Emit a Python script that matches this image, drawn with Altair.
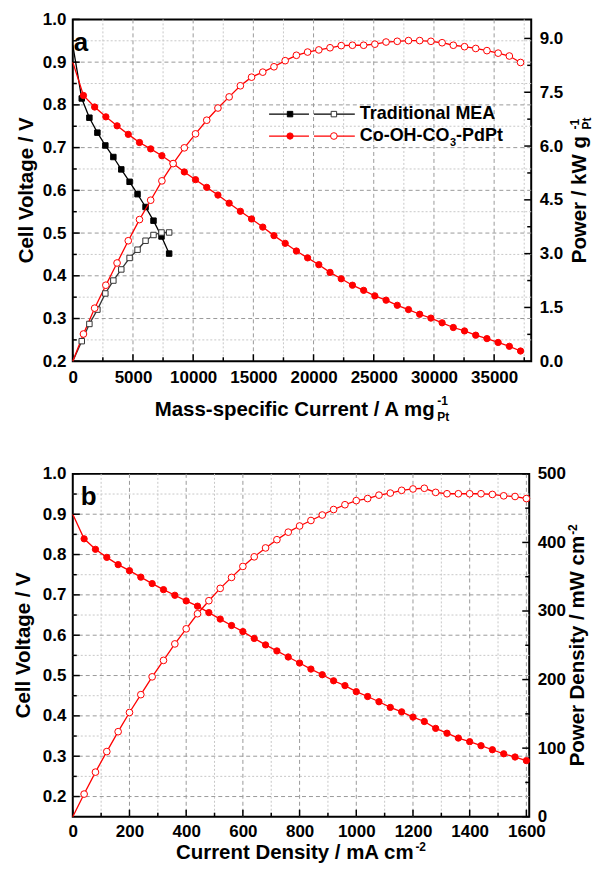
import altair as alt
import pandas as pd

# ---------------- data: panel a ----------------
a_current = [886, 1817, 2748, 3679, 4610, 5541, 6472, 7403, 8334, 9265, 10196, 11127,
             12058, 12989, 13920, 14851, 15782, 16713, 17644, 18575, 19506, 20437, 21368,
             22299, 23230, 24161, 25092, 26023, 26954, 27885, 28816, 29747, 30678, 31609,
             32540, 33471, 34402, 35333, 36264, 37195]
a_voltage = [0.822, 0.795, 0.772, 0.751, 0.731, 0.712, 0.697, 0.681, 0.663, 0.643, 0.625,
             0.607, 0.589, 0.570, 0.551, 0.533, 0.514, 0.494, 0.476, 0.458, 0.442, 0.426,
             0.408, 0.393, 0.378, 0.366, 0.353, 0.343, 0.331, 0.321, 0.310, 0.301, 0.290,
             0.279, 0.271, 0.261, 0.253, 0.244, 0.235, 0.224]
a_power = [0.76, 1.48, 2.12, 2.74, 3.36, 3.95, 4.49, 5.03, 5.51, 5.95, 6.34, 6.72, 7.06,
           7.37, 7.68, 7.92, 8.06, 8.21, 8.38, 8.53, 8.62, 8.68, 8.74, 8.80, 8.81, 8.81,
           8.84, 8.90, 8.92, 8.94, 8.94, 8.92, 8.88, 8.81, 8.77, 8.72, 8.66, 8.59, 8.51, 8.33]
a_ocv = 0.90

mea_current = [745, 1380, 2045, 2705, 3370, 4030, 4720, 5380, 6045, 6705, 7370, 8005]
mea_voltage = [0.815, 0.770, 0.735, 0.705, 0.678, 0.649, 0.620, 0.591, 0.561, 0.529, 0.492, 0.452]
mea_power = [0.56, 1.04, 1.44, 1.89, 2.25, 2.56, 2.88, 3.11, 3.36, 3.52, 3.59, 3.59]
mea_ocv = 0.94

# ---------------- data: panel b ----------------
b_current = [40, 80, 120, 160, 200, 240, 280, 320, 360, 400, 440, 480, 520, 560, 600, 640,
             680, 720, 760, 800, 840, 880, 920, 960, 1000, 1040, 1080, 1120, 1160, 1200,
             1240, 1280, 1320, 1360, 1400, 1440, 1480, 1520, 1560, 1600]
b_voltage = [0.839, 0.813, 0.793, 0.775, 0.760, 0.744, 0.728, 0.713, 0.699, 0.685, 0.672,
             0.656, 0.640, 0.624, 0.609, 0.592, 0.576, 0.561, 0.546, 0.531, 0.516, 0.502,
             0.487, 0.475, 0.460, 0.448, 0.435, 0.421, 0.410, 0.397, 0.386, 0.369, 0.357,
             0.345, 0.336, 0.326, 0.316, 0.306, 0.298, 0.289]
b_power = [33, 65, 95, 124, 152, 178, 204, 228, 252, 274, 296, 315, 333, 349, 365, 379, 392,
           404, 415, 424, 432, 440, 448, 455, 461, 464, 469, 472, 476, 478, 479, 473, 471,
           471, 471, 471, 470, 468, 467, 464]
b_ocv = 0.90

# axis values
a_x_major = [0, 5000, 10000, 15000, 20000, 25000, 30000, 35000]
a_x_minor = [2500, 7500, 12500, 17500, 22500, 27500, 32500, 37500]
a_y_major = [0.2, 0.3, 0.4, 0.5, 0.6, 0.7, 0.8, 0.9, 1.0]
a_y_minor = [0.25, 0.35, 0.45, 0.55, 0.65, 0.75, 0.85, 0.95]
a_r_major = [0.0, 1.5, 3.0, 4.5, 6.0, 7.5, 9.0]
a_r_minor = [0.75, 2.25, 3.75, 5.25, 6.75, 8.25]

b_x_major = [0, 200, 400, 600, 800, 1000, 1200, 1400, 1600]
b_x_minor = [100, 300, 500, 700, 900, 1100, 1300, 1500]
b_y_major = [0.2, 0.3, 0.4, 0.5, 0.6, 0.7, 0.8, 0.9, 1.0]
b_y_minor = [0.25, 0.35, 0.45, 0.55, 0.65, 0.75, 0.85, 0.95]
b_r_major = [0, 100, 200, 300, 400, 500]
b_r_minor = [50, 150, 250, 350, 450]

FONT = "Liberation Sans"
RED = "#ff0000"
AW = {' ': 278, '-': 333, '/': 278, '.': 278, '0': 556, '1': 556, '2': 556, '3': 556,
      'A': 722, 'C': 722, 'D': 722, 'M': 833, 'P': 667, 'V': 667, 'W': 944, 'O': 778,
      'H': 722, 'E': 667, 'T': 611, 'a': 556, 'c': 556, 'd': 611, 'e': 556, 'f': 333,
      'g': 611, 'i': 278, 'k': 556, 'l': 278, 'm': 889, 'n': 611, 'o': 611, 'p': 611,
      'r': 389, 's': 556, 't': 333, 'u': 611, 'w': 778, 'y': 556}


def tw(s, size):
    return sum(AW.get(c, 556) for c in s) / 1000.0 * size


ONE = alt.Data(values=[{}])


def txt(s, x, y, size, angle=0, align="left", baseline="alphabetic", color="black"):
    return alt.Chart(ONE).mark_text(text=s, x=x, y=y, fontSize=size, font=FONT,
                                    fontWeight="bold", angle=angle, align=align,
                                    baseline=baseline, color=color)


def seg(x1, x2, y, color, w=1.3):
    return alt.Chart(ONE).mark_rule(color=color, strokeWidth=w).encode(
        x=alt.value(x1), x2=alt.value(x2), y=alt.value(y))


def sym(x, y, shape, size, fill, stroke):
    return alt.Chart(ONE).mark_point(shape=shape, size=size, filled=True, fill=fill,
                                     stroke=stroke, strokeWidth=1, opacity=1).encode(
        x=alt.value(x), y=alt.value(y))


def ax(**kw):
    return alt.Axis(ticks=False, domain=False, grid=False, title=None, labelFont=FONT,
                    labelFontWeight="bold", labelFontSize=17, labelColor="black",
                    labelFlush=False, labelOverlap=False, **kw)


def build(W, H, xdom, xmaj, xmin, xfmt, xpad, ydom, ymaj, ymin, rdom, rmaj, rmin, rfmt,
          left_series, right_series, decor):
    X = alt.X("x:Q", scale=alt.Scale(domain=xdom, nice=False, zero=False),
              axis=ax(values=xmaj, format=xfmt, labelPadding=xpad))
    Y = alt.Y("y:Q", scale=alt.Scale(domain=ydom, nice=False, zero=False),
              axis=ax(values=ymaj, format=".1f", labelPadding=7))
    R = alt.Y("y:Q", scale=alt.Scale(domain=rdom, nice=False, zero=False),
              axis=ax(values=rmaj, format=rfmt, labelPadding=8, orient="right"))

    xg_major = [v for v in xmaj if xdom[0] < v]
    yg_major = [v for v in ymaj if ydom[0] < v < ydom[1]]
    left = [
        alt.Chart(pd.DataFrame({"x": xmin})).mark_rule(color="#c8c8c8", strokeWidth=1, strokeDash=[2, 2]).encode(x=X),
        alt.Chart(pd.DataFrame({"y": ymin})).mark_rule(color="#c8c8c8", strokeWidth=1, strokeDash=[2, 2]).encode(y=Y),
        alt.Chart(pd.DataFrame({"x": xg_major})).mark_rule(color="#9a9a9a", strokeWidth=1, strokeDash=[4, 3]).encode(x=X),
        alt.Chart(pd.DataFrame({"y": yg_major})).mark_rule(color="#9a9a9a", strokeWidth=1, strokeDash=[4, 3]).encode(y=Y),
    ]
    for xs, ys, start, color, shape, size, fill in left_series:
        left.append(alt.Chart(pd.DataFrame({"x": [0] + xs, "y": [start] + ys}))
                    .mark_line(color=color, strokeWidth=1.3).encode(x=X, y=Y))
    for xs, ys, start, color, shape, size, fill in left_series:
        left.append(alt.Chart(pd.DataFrame({"x": xs, "y": ys}))
                    .mark_point(shape=shape, size=size, filled=True, fill=fill, stroke=color,
                                strokeWidth=1, opacity=1).encode(x=X, y=Y))
    left += [
        alt.Chart(pd.DataFrame({"y": ymaj})).mark_rule(color="black", strokeWidth=1.5).encode(
            y=Y, x=alt.value(0), x2=alt.value(7)),
        alt.Chart(pd.DataFrame({"y": ymin})).mark_rule(color="black", strokeWidth=1.5).encode(
            y=Y, x=alt.value(0), x2=alt.value(4)),
        alt.Chart(pd.DataFrame({"x": xmaj})).mark_rule(color="black", strokeWidth=1.5).encode(
            x=X, y=alt.value(H), y2=alt.value(H - 7)),
        alt.Chart(pd.DataFrame({"x": xmin})).mark_rule(color="black", strokeWidth=1.5).encode(
            x=X, y=alt.value(H), y2=alt.value(H - 4)),
    ]
    left += decor

    right = []
    for xs, ys, color, shape, size in right_series:
        right.append(alt.Chart(pd.DataFrame({"x": [0] + xs, "y": [0] + ys}))
                     .mark_line(color=color, strokeWidth=1.3).encode(x=X, y=R))
    for xs, ys, color, shape, size in right_series:
        right.append(alt.Chart(pd.DataFrame({"x": xs, "y": ys}))
                     .mark_point(shape=shape, size=size, filled=True, fill="white", stroke=color,
                                 strokeWidth=1, opacity=1).encode(x=X, y=R))
    right += [
        alt.Chart(pd.DataFrame({"y": rmaj})).mark_rule(color="black", strokeWidth=1.5).encode(
            y=R, x=alt.value(W), x2=alt.value(W - 7)),
        alt.Chart(pd.DataFrame({"y": rmin})).mark_rule(color="black", strokeWidth=1.5).encode(
            y=R, x=alt.value(W), x2=alt.value(W - 4)),
    ]
    return alt.layer(alt.layer(*left), alt.layer(*right)).resolve_scale(y="independent").properties(
        width=W, height=H)


TS = 20.5   # title size
SS = 12     # script size

# ---------- panel a decorations ----------
WA, HA = 460, 343
xa_main = "Mass-specific Current / A mg"
xa_tot = tw(xa_main, TS) + 1 + tw("Pt", SS)
xa_start = WA / 2 - xa_tot / 2
xa_base = 398
ra_main = "Power  / kW g"
ra_tot = tw(ra_main, TS) + 1 + tw("Pt", SS)
ra_start = HA / 2 + ra_tot / 2
ra_base = 515
co_main = "Co-OH-CO"
decor_a = [
    txt("Cell Voltage / V", -46, HA / 2, TS, angle=270, align="center", baseline="middle"),
    txt(xa_main, xa_start, xa_base, TS),
    txt("-1", xa_start + tw(xa_main, TS) + 1, xa_base - 11, SS),
    txt("Pt", xa_start + tw(xa_main, TS) + 1, xa_base + 5, SS),
    txt(ra_main, ra_base, ra_start, TS, angle=270),
    txt("-1", ra_base - 7, ra_start - tw(ra_main, TS) - 1, SS, angle=270),
    txt("Pt", ra_base + 5, ra_start - tw(ra_main, TS) - 1, SS, angle=270),
    txt("a", 1, 32, 26),
    # legend
    seg(197, 237, 95, "black"), sym(218, 95, "square", 30, "black", "black"),
    seg(242, 283, 95, "black"), sym(262, 95, "square", 30, "white", "#333333"),
    seg(197, 237, 117, RED), sym(218, 117, "circle", 40, RED, RED),
    seg(242, 283, 117, RED), sym(262, 117, "circle", 45, "white", RED),
    txt("Traditional MEA", 288, 95, 18, baseline="middle"),
    txt(co_main, 288, 117, 18, baseline="middle"),
    txt("3", 288 + tw(co_main, 18) + 0.5, 127, 11),
    txt("-PdPt", 288 + tw(co_main, 18) + 0.5 + tw("3", 11), 117, 18, baseline="middle"),
]

panel_a = build(
    WA, HA, [0, 38080], a_x_major, a_x_minor, "d", 8,
    [0.2, 1.0], a_y_major, a_y_minor,
    [0, 9.53], a_r_major, a_r_minor, ".1f",
    [(mea_current, mea_voltage, mea_ocv, "black", "square", 30, "black"),
     (a_current, a_voltage, a_ocv, RED, "circle", 40, RED)],
    [(mea_current, mea_power, "#333333", "square", 30),
     (a_current, a_power, RED, "circle", 45)],
    decor_a,
)

# ---------- panel b decorations ----------
WB, HB = 458, 344
xb_main = "Current Density / mA cm"
xb_tot = tw(xb_main, TS) + 1 + tw("-2", SS)
xb_start = WB / 2 - xb_tot / 2
xb_base = 386
rb_main = "Power Density / mW cm"
rb_tot = tw(rb_main, TS) + 1 + tw("-2", SS)
rb_start = HB / 2 + rb_tot / 2
rb_base = 513
decor_b = [
    txt("Cell Voltage / V", -49, HB / 2, TS, angle=270, align="center", baseline="middle"),
    txt(xb_main, xb_start, xb_base, TS),
    txt("-2", xb_start + tw(xb_main, TS) + 1, xb_base - 8, SS),
    txt(rb_main, rb_base, rb_start, TS, angle=270),
    txt("-2", rb_base - 7, rb_start - tw(rb_main, TS) - 1, SS, angle=270),
    txt("b", 8, 31, 26),
]

panel_b = build(
    WB, HB, [0, 1610], b_x_major, b_x_minor, "d", 7,
    [0.15, 1.0], b_y_major, b_y_minor,
    [0, 500], b_r_major, b_r_minor, "d",
    [(b_current, b_voltage, b_ocv, RED, "circle", 40, RED)],
    [(b_current, b_power, RED, "circle", 45)],
    decor_b,
)

chart = alt.vconcat(panel_a, panel_b, spacing=40).properties(
    padding={"left": 5, "top": 0, "right": 0, "bottom": 0}
).configure_view(stroke="black", strokeWidth=2)

chart.save("out.html", embed_options={"renderer": "svg", "actions": False})
